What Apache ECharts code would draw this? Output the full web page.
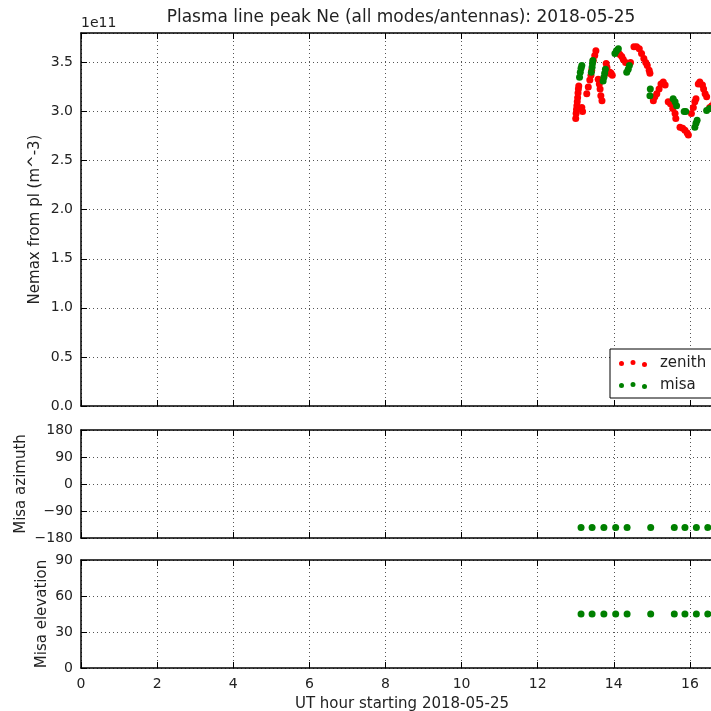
<!DOCTYPE html>
<html>
<head>
<meta charset="utf-8">
<script src="https://cdn.jsdelivr.net/npm/echarts@6/dist/echarts.min.js"></script>
<style>
  html, body { margin: 0; padding: 0; background: #fff; }
  #chart { width: 711px; height: 711px; }
</style>
</head>
<body>
<div id="chart"></div>
<script>
// data (Ne in units of 1e11 m^-3, hour in UT)
const zenithHour = [
  13.00, 13.01, 13.02, 13.03, 13.04, 13.05, 13.06, 13.07, 13.08, 13.16, 13.18,
  13.29, 13.33, 13.37, 13.40, 13.42, 13.46, 13.50, 13.53,
  13.59, 13.62, 13.64, 13.66, 13.69,
  13.80, 13.82, 13.84, 13.87, 13.90, 13.93, 13.96,
  14.12, 14.16, 14.21, 14.25, 14.31, 14.38, 14.44,
  14.53, 14.60, 14.67, 14.73, 14.79, 14.84, 14.88, 14.93, 14.95,
  15.04, 15.08, 15.13, 15.19, 15.24, 15.30, 15.35,
  15.43, 15.49, 15.55, 15.61, 15.63,
  15.74, 15.81, 15.87, 15.93, 15.96,
  16.04, 16.09, 16.13, 16.16,
  16.22, 16.26, 16.33, 16.36, 16.40, 16.44,
  16.52, 16.58, 16.64, 16.72, 16.80
];
const zenithNe = [
  2.93, 2.98, 3.02, 3.06, 3.10, 3.14, 3.19, 3.23, 3.26, 3.04, 3.00,
  3.18, 3.25, 3.32, 3.37, 3.42, 3.52, 3.57, 3.62,
  3.33, 3.28, 3.23, 3.16, 3.11,
  3.49, 3.45, 3.41, 3.39, 3.40, 3.39, 3.37,
  3.60, 3.58, 3.56, 3.53, 3.50, 3.49, 3.50,
  3.66, 3.66, 3.64, 3.59, 3.54, 3.50, 3.47, 3.42, 3.39,
  3.11, 3.15, 3.18, 3.23, 3.28, 3.30, 3.27,
  3.10, 3.08, 3.03, 2.98, 2.93,
  2.84, 2.83, 2.81, 2.78, 2.76,
  2.98, 3.04, 3.10, 3.13,
  3.28, 3.30, 3.27, 3.23, 3.18, 3.15,
  3.04, 3.06, 3.10, 3.12, 3.15
];
const misaHour = [
  13.10, 13.12, 13.14, 13.16,
  13.41, 13.43, 13.44, 13.45,
  13.72, 13.74, 13.76, 13.78,
  14.03, 14.07, 14.12,
  14.34, 14.38, 14.41,
  14.95, 14.96,
  15.56, 15.61, 15.65,
  15.85, 15.89,
  16.13, 16.16, 16.19,
  16.44, 16.52, 16.76
];
const misaNe = [
  3.35, 3.40, 3.44, 3.47,
  3.40, 3.45, 3.49, 3.52,
  3.31, 3.35, 3.39, 3.43,
  3.59, 3.62, 3.64,
  3.40, 3.43, 3.47,
  3.16, 3.23,
  3.13, 3.10, 3.06,
  3.00, 3.00,
  2.84, 2.88, 2.91,
  3.01, 3.03, 3.10
];
const pointingHour = [13.14, 13.43, 13.74, 14.05, 14.35, 14.97, 15.59, 15.87, 16.17, 16.47, 16.77];
const misaAzimuth = [-145, -145, -145, -145, -145, -145, -145, -145, -145, -145, -145];
const misaElevation = [45, 45, 45, 45, 45, 45, 45, 45, 45, 45, 45];

const X_MAX = 16.87;
const neTicks = { min: 0, max: 3.8, interval: 0.5 };
const azTicks = { min: -180, max: 180, interval: 90 };
const elTicks = { min: 0, max: 90, interval: 30 };

const FONT = 'DejaVu Sans';
const gridLine = { show: true, lineStyle: { color: '#555', width: 1, type: [1, 3] } };

function pairs(xs, ys) {
  return xs.map((x, i) => [x, ys[i]]);
}

function minusFmt(v) {
  return v < 0 ? '\u2212' + Math.abs(v) : String(v);
}

function bottomX(idx, withLabels) {
  return {
    type: 'value', gridIndex: idx, min: 0, max: X_MAX, interval: 2,
    position: 'bottom',
    axisLine: { show: true, onZero: false, lineStyle: { color: '#000', width: 1.5 } },
    axisTick: { show: true, inside: true, length: 6, lineStyle: { color: '#000', width: 1 } },
    axisLabel: {
      show: withLabels, color: '#222', fontFamily: FONT, fontSize: 14, margin: 9,
      formatter: v => (Number.isInteger(v) ? String(v) : '')
    },
    splitLine: gridLine,
    name: withLabels ? 'UT hour starting 2018-05-25' : '',
    nameLocation: 'middle', nameGap: 29,
    nameTextStyle: { color: '#222', fontFamily: FONT, fontSize: 15 }
  };
}

function topX(idx) {
  return {
    type: 'value', gridIndex: idx, min: 0, max: X_MAX, interval: 2,
    position: 'top',
    axisLine: { show: true, onZero: false, lineStyle: { color: '#000', width: 1.5 } },
    axisTick: { show: true, inside: true, length: 6, lineStyle: { color: '#000', width: 1 } },
    axisLabel: { show: false },
    splitLine: { show: false }
  };
}

function leftY(idx, t, name, gap, fmt) {
  return {
    type: 'value', gridIndex: idx, min: t.min, max: t.max, interval: t.interval,
    axisLine: { show: true, onZero: false, lineStyle: { color: '#000', width: 1.5 } },
    axisTick: { show: true, inside: true, length: 6, lineStyle: { color: '#000', width: 1 } },
    axisLabel: { color: '#222', fontFamily: FONT, fontSize: 14, margin: 8, formatter: fmt },
    splitLine: gridLine,
    name: name, nameLocation: 'middle', nameGap: gap, nameMoveOverlap: false,
    nameTextStyle: { color: '#222', fontFamily: FONT, fontSize: 15 }
  };
}

const chart = echarts.init(document.getElementById('chart'), null, { renderer: 'canvas' });

const dots = 'path://M0,3.5a2.5,2.5 0 1,0 5,0a2.5,2.5 0 1,0 -5,0' +
  'M11.5,2.5a2.5,2.5 0 1,0 5,0a2.5,2.5 0 1,0 -5,0' +
  'M23,4.5a2.5,2.5 0 1,0 5,0a2.5,2.5 0 1,0 -5,0';

const dotStyle = color => ({ color: color, opacity: 1 });

// the axes run past the right edge of the picture (cropped figure)
const panel = (top, height) => ({
  left: 81, width: 642, top: top, height: height,
  outerBoundsMode: 'none', containLabel: false
});

const option = {
  backgroundColor: '#fff',
  animation: false,
  graphic: [
    {
      type: 'text', x: 401, y: 18,
      style: {
        text: 'Plasma line peak Ne (all modes/antennas): 2018-05-25',
        fill: '#222', font: '17px "DejaVu Sans"', align: 'center', verticalAlign: 'middle'
      }
    },
    {
      type: 'text', x: 81, y: 23,
      style: { text: '1e11', fill: '#222', font: '14px "DejaVu Sans"', align: 'left', verticalAlign: 'middle' }
    }
  ],
  grid: [panel(33, 373), panel(430, 108), panel(560, 108)],
  xAxis: [bottomX(0, false), bottomX(1, false), bottomX(2, true), topX(0), topX(1), topX(2)],
  yAxis: [
    leftY(0, neTicks, 'Nemax from pl (m^-3)', 38,
      v => (Math.abs(v * 2 - Math.round(v * 2)) < 1e-9 ? v.toFixed(1) : '')),
    leftY(1, azTicks, 'Misa azimuth', 52, minusFmt),
    leftY(2, elTicks, 'Misa elevation', 31, minusFmt)
  ],
  legend: {
    data: ['zenith', 'misa'],
    orient: 'vertical',
    left: 610, top: 349,
    padding: [7, 60, 5, 9],
    itemGap: 7,
    itemWidth: 28, itemHeight: 7,
    icon: dots,
    backgroundColor: '#fff',
    borderColor: '#000', borderWidth: 1, borderRadius: 0,
    textStyle: { color: '#222', fontFamily: FONT, fontSize: 15, padding: [0, 0, 0, 8] }
  },
  series: [
    {
      name: 'zenith', type: 'scatter', xAxisIndex: 0, yAxisIndex: 0,
      symbolSize: 7, itemStyle: dotStyle('#ff0000'),
      data: pairs(zenithHour, zenithNe)
    },
    {
      name: 'misa', type: 'scatter', xAxisIndex: 0, yAxisIndex: 0,
      symbolSize: 7, itemStyle: dotStyle('#008000'),
      data: pairs(misaHour, misaNe)
    },
    {
      name: 'misa azimuth', type: 'scatter', xAxisIndex: 1, yAxisIndex: 1,
      symbolSize: 7, itemStyle: dotStyle('#008000'),
      data: pairs(pointingHour, misaAzimuth)
    },
    {
      name: 'misa elevation', type: 'scatter', xAxisIndex: 2, yAxisIndex: 2,
      symbolSize: 7, itemStyle: dotStyle('#008000'),
      data: pairs(pointingHour, misaElevation)
    }
  ]
};

chart.setOption(option);
window.addEventListener('resize', () => chart.resize());
</script>
</body>
</html>
